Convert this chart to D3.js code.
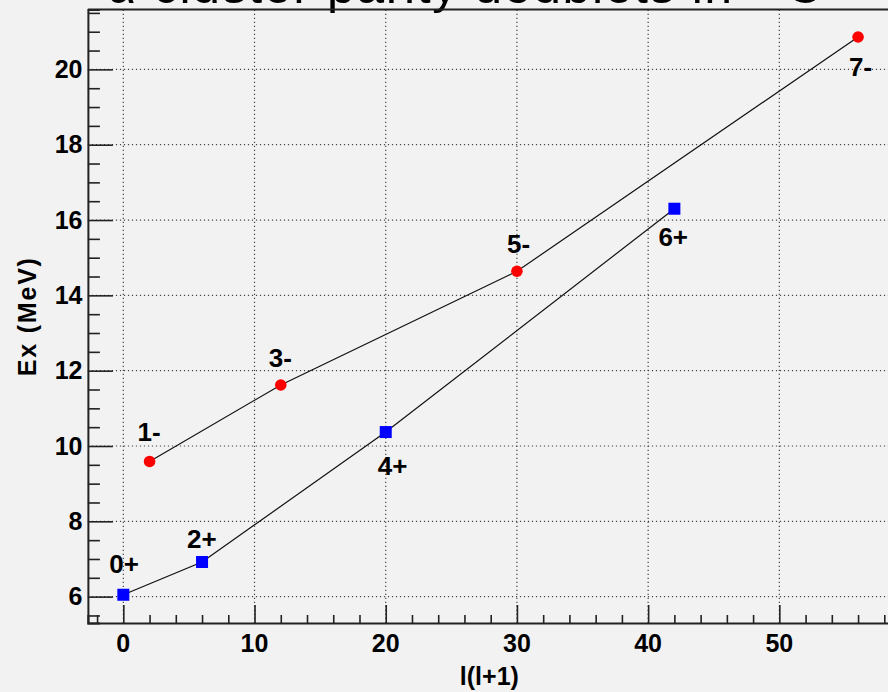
<!DOCTYPE html>
<html>
<head>
<meta charset="utf-8">
<script src="https://cdn.jsdelivr.net/npm/d3@7"></script>
<style>
html,body{margin:0;padding:0;background:#f2f2f2;overflow:hidden;}
svg{display:block;font-family:"Liberation Sans",Arial,sans-serif;}
</style>
</head>
<body>
<svg id="chart" width="888" height="692"></svg>
<script>
// ---- data ----
const negL2 = [2, 12, 30, 56];            // l(l+1) for 1-,3-,5-,7-
const negEx = [9.59, 11.62, 14.64, 20.86];
const negLabels = ["1-", "3-", "5-", "7-"];
const posL2 = [0, 6, 20, 42];             // l(l+1) for 0+,2+,4+,6+
const posEx = [6.05, 6.92, 10.37, 16.30];
const posLabels = ["0+", "2+", "4+", "6+"];
const xTicks = [0, 10, 20, 30, 40, 50];
const yTicks = [6, 8, 10, 12, 14, 16, 18, 20];
const xTitle = "l(l+1)";
const yTitle = "Ex (MeV)";

const svg = d3.select("#chart");
const x = d3.scaleLinear().domain([-2.7, 58.8]).range([87.9, 894.8]);
const y = d3.scaleLinear().domain([5.3, 21.59]).range([623, 9.5]);
const X0 = x.range()[0], X1 = x.range()[1], Y0 = y.range()[0], Y1 = y.range()[1];

// title (cut off at top)
const title = svg.append("text").attr("x", 107).attr("y", 3)
  .attr("font-size", 50).attr("letter-spacing", 1.6).attr("fill", "#000");
title.append("tspan").text("α cluster parity doublets in ");
title.append("tspan").attr("baseline-shift", "super").attr("font-size", 30).text("16");
title.append("tspan").text("O");

// grid
const g = svg.append("g");
g.selectAll(".vg").data(xTicks).join("line")
  .attr("x1", d => x(d)).attr("x2", d => x(d)).attr("y1", Y0).attr("y2", Y1)
  .attr("stroke", "#444").attr("stroke-width", 1.2).attr("stroke-dasharray", "1.2,2.8");
g.selectAll(".hg").data(yTicks).join("line")
  .attr("y1", d => y(d)).attr("y2", d => y(d)).attr("x1", X0).attr("x2", X1)
  .attr("stroke", "#444").attr("stroke-width", 1.2).attr("stroke-dasharray", "1.2,2.8");

// axes (ticks inward)
const xAxis = d3.axisTop(x).tickValues(d3.range(-2, 59, 2)).tickSizeOuter(0)
  .tickSize(8).tickFormat("");
const xa = svg.append("g").attr("transform", `translate(0,${Y0})`).call(xAxis);
xa.selectAll(".tick line").attr("y2", d => xTicks.includes(d) ? -18 : -8);
const yAxis = d3.axisRight(y).tickValues(d3.range(5.5, 21.6, 0.5)).tickSizeOuter(0)
  .tickSize(12).tickFormat("");
const ya = svg.append("g").attr("transform", `translate(${X0},0)`).call(yAxis);
ya.selectAll(".tick line").attr("x2", d => yTicks.includes(d) ? 25 : 12);
[xa, ya].forEach(a => {
  a.selectAll(".tick line").attr("stroke", "#222").attr("stroke-width", 1.6);
  a.select(".domain").attr("stroke", "#222").attr("stroke-width", 2);
});
// top frame
svg.append("line").attr("x1", X0).attr("x2", X1).attr("y1", Y1).attr("y2", Y1)
  .attr("stroke", "#222").attr("stroke-width", 2);

// tick labels
svg.selectAll(".xl").data(xTicks).join("text")
  .attr("x", d => x(d)).attr("y", 652).attr("text-anchor", "middle")
  .attr("font-size", 25).attr("font-weight", "bold").text(d => d);
svg.selectAll(".yl").data(yTicks).join("text")
  .attr("x", 82.5).attr("y", d => y(d)).attr("dy", "0.35em").attr("text-anchor", "end")
  .attr("font-size", 25).attr("font-weight", "bold").text(d => d);

// axis titles
svg.append("text").attr("x", (X0 + X1) / 2 - 2).attr("y", 685).attr("text-anchor", "middle")
  .attr("font-size", 25).attr("font-weight", "bold").text(xTitle);
svg.append("text").attr("transform", `translate(36,${(Y0 + Y1) / 2}) rotate(-90)`)
  .attr("text-anchor", "middle").attr("font-size", 25).attr("font-weight", "bold")
  .attr("letter-spacing", 1.8).text(yTitle);

// lines
const line = d3.line().x(d => x(d[0])).y(d => y(d[1]));
const neg = negL2.map((v, i) => [v, negEx[i]]);
const pos = posL2.map((v, i) => [v, posEx[i]]);
[neg, pos].forEach(s => svg.append("path").attr("d", line(s)).attr("fill", "none")
  .attr("stroke", "#111").attr("stroke-width", 1.2));

// markers
svg.selectAll(".neg").data(neg).join("circle")
  .attr("cx", d => x(d[0])).attr("cy", d => y(d[1])).attr("r", 5.8).attr("fill", "#ff0000");
svg.selectAll(".pos").data(pos).join("rect")
  .attr("x", d => x(d[0]) - 6).attr("y", d => y(d[1]) - 6).attr("width", 12).attr("height", 12)
  .attr("fill", "#0000ff");

// state labels (offsets relative to the point)
const negOff = [[-12, -20], [-12, -18], [-10, -18], [-9, 39]];
const posOff = [[-14, -22], [-15, -14], [-8, 43], [-16, 37]];
svg.selectAll(".nl").data(neg).join("text")
  .attr("x", (d, i) => x(d[0]) + negOff[i][0]).attr("y", (d, i) => y(d[1]) + negOff[i][1])
  .attr("font-size", 26).attr("font-weight", "bold").text((d, i) => negLabels[i]);
svg.selectAll(".pl").data(pos).join("text")
  .attr("x", (d, i) => x(d[0]) + posOff[i][0]).attr("y", (d, i) => y(d[1]) + posOff[i][1])
  .attr("font-size", 26).attr("font-weight", "bold").text((d, i) => posLabels[i]);
</script>
</body>
</html>
